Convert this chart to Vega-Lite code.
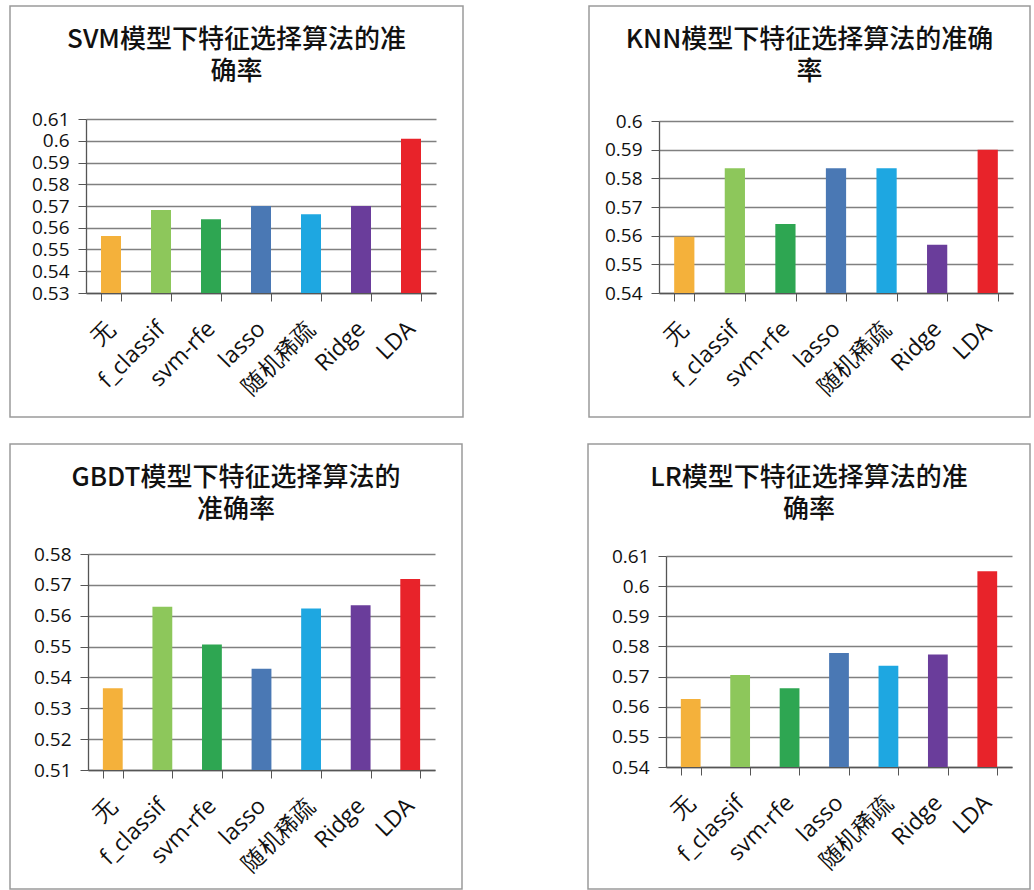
{
  "$schema": "https://vega.github.io/schema/vega-lite/v6.json",
  "padding": {"left": 1, "top": 5, "right": 0, "bottom": 0},
  "background": "white",
  "datasets": {
    "svm": [
      {"method": "无", "acc": 0.5562},
      {"method": "f_classif", "acc": 0.5682},
      {"method": "svm-rfe", "acc": 0.5639},
      {"method": "lasso", "acc": 0.570},
      {"method": "随机稀疏", "acc": 0.5662},
      {"method": "Ridge", "acc": 0.570},
      {"method": "LDA", "acc": 0.6009}
    ],
    "knn": [
      {"method": "无", "acc": 0.5596},
      {"method": "f_classif", "acc": 0.5835},
      {"method": "svm-rfe", "acc": 0.5641},
      {"method": "lasso", "acc": 0.5835},
      {"method": "随机稀疏", "acc": 0.5835},
      {"method": "Ridge", "acc": 0.5568},
      {"method": "LDA", "acc": 0.590}
    ],
    "gbdt": [
      {"method": "无", "acc": 0.5365},
      {"method": "f_classif", "acc": 0.5629},
      {"method": "svm-rfe", "acc": 0.5507},
      {"method": "lasso", "acc": 0.5428},
      {"method": "随机稀疏", "acc": 0.5623},
      {"method": "Ridge", "acc": 0.5634},
      {"method": "LDA", "acc": 0.5719}
    ],
    "lr": [
      {"method": "无", "acc": 0.5626},
      {"method": "f_classif", "acc": 0.5705},
      {"method": "svm-rfe", "acc": 0.5661},
      {"method": "lasso", "acc": 0.5778},
      {"method": "随机稀疏", "acc": 0.5736},
      {"method": "Ridge", "acc": 0.5773},
      {"method": "LDA", "acc": 0.6049}
    ]
  },
  "vconcat": [
    {
      "hconcat": [
        {
          "width": 453, "height": 411,
          "title": {"text": ["SVM模型下特征选择算法的准", "确率"], "offset": -79},
          "data": {"name": "svm"},
          "mark": {"type": "bar"},
          "encoding": {
            "x": {"field": "method", "type": "nominal", "sort": ["无", "f_classif", "svm-rfe", "lasso", "随机稀疏", "Ridge", "LDA"],
                  "scale": {"range": [76, 426], "paddingInner": 0.6, "paddingOuter": 0.3},
                  "axis": {"offset": -124}},
            "y": {"field": "acc", "type": "quantitative",
                  "scale": {"domain": [0.53, 0.61], "range": [287, 113], "nice": false, "zero": false},
                  "axis": {"offset": -76, "values": [0.53, 0.54, 0.55, 0.56, 0.57, 0.58, 0.59, 0.6, 0.61]}},
            "y2": {"datum": 0.53},
            "color": {"field": "method", "type": "nominal", "legend": null,
                      "scale": {"domain": ["无", "f_classif", "svm-rfe", "lasso", "随机稀疏", "Ridge", "LDA"],
                                "range": ["#F4B13B", "#8DC75B", "#2EA652", "#4A78B4", "#1EA7E1", "#6A3D9B", "#E8232A"]}}
          }
        },
        {
          "width": 441, "height": 411,
          "title": {"text": ["KNN模型下特征选择算法的准确", "率"], "offset": -79},
          "data": {"name": "knn"},
          "mark": {"type": "bar"},
          "encoding": {
            "x": {"field": "method", "type": "nominal", "sort": ["无", "f_classif", "svm-rfe", "lasso", "随机稀疏", "Ridge", "LDA"],
                  "scale": {"range": [70, 424], "paddingInner": 0.6, "paddingOuter": 0.3},
                  "axis": {"offset": -124}},
            "y": {"field": "acc", "type": "quantitative",
                  "scale": {"domain": [0.54, 0.6], "range": [287, 115], "nice": false, "zero": false},
                  "axis": {"offset": -70, "values": [0.54, 0.55, 0.56, 0.57, 0.58, 0.59, 0.6]}},
            "y2": {"datum": 0.54},
            "color": {"field": "method", "type": "nominal", "legend": null,
                      "scale": {"domain": ["无", "f_classif", "svm-rfe", "lasso", "随机稀疏", "Ridge", "LDA"],
                                "range": ["#F4B13B", "#8DC75B", "#2EA652", "#4A78B4", "#1EA7E1", "#6A3D9B", "#E8232A"]}}
          }
        }
      ]
    },
    {
      "hconcat": [
        {
          "width": 452, "height": 445,
          "title": {"text": ["GBDT模型下特征选择算法的", "准确率"], "offset": -79},
          "data": {"name": "gbdt"},
          "mark": {"type": "bar"},
          "encoding": {
            "x": {"field": "method", "type": "nominal", "sort": ["无", "f_classif", "svm-rfe", "lasso", "随机稀疏", "Ridge", "LDA"],
                  "scale": {"range": [78, 425], "paddingInner": 0.6, "paddingOuter": 0.3},
                  "axis": {"offset": -119}},
            "y": {"field": "acc", "type": "quantitative",
                  "scale": {"domain": [0.51, 0.58], "range": [326, 110], "nice": false, "zero": false},
                  "axis": {"offset": -78, "values": [0.51, 0.52, 0.53, 0.54, 0.55, 0.56, 0.57, 0.58]}},
            "y2": {"datum": 0.51},
            "color": {"field": "method", "type": "nominal", "legend": null,
                      "scale": {"domain": ["无", "f_classif", "svm-rfe", "lasso", "随机稀疏", "Ridge", "LDA"],
                                "range": ["#F4B13B", "#8DC75B", "#2EA652", "#4A78B4", "#1EA7E1", "#6A3D9B", "#E8232A"]}}
          }
        },
        {
          "width": 442, "height": 445,
          "title": {"text": ["LR模型下特征选择算法的准", "确率"], "offset": -79},
          "data": {"name": "lr"},
          "mark": {"type": "bar"},
          "encoding": {
            "x": {"field": "method", "type": "nominal", "sort": ["无", "f_classif", "svm-rfe", "lasso", "随机稀疏", "Ridge", "LDA"],
                  "scale": {"range": [78, 424], "paddingInner": 0.6, "paddingOuter": 0.3},
                  "axis": {"offset": -122}},
            "y": {"field": "acc", "type": "quantitative",
                  "scale": {"domain": [0.54, 0.61], "range": [323, 112], "nice": false, "zero": false},
                  "axis": {"offset": -78, "values": [0.54, 0.55, 0.56, 0.57, 0.58, 0.59, 0.6, 0.61]}},
            "y2": {"datum": 0.54},
            "color": {"field": "method", "type": "nominal", "legend": null,
                      "scale": {"domain": ["无", "f_classif", "svm-rfe", "lasso", "随机稀疏", "Ridge", "LDA"],
                                "range": ["#F4B13B", "#8DC75B", "#2EA652", "#4A78B4", "#1EA7E1", "#6A3D9B", "#E8232A"]}}
          }
        }
      ]
    }
  ],
  "spacing": 25,
  "config": {
    "concat": {"spacing": 116},
    "view": {"stroke": "#9a9a9a", "strokeWidth": 1.5, "fill": "white"},
    "axis": {
      "title": null,
      "labelFont": "Open Sans",
      "labelFontSize": 19,
      "labelColor": "#111111",
      "domainColor": "#555555",
      "tickColor": "#555555",
      "gridColor": "#808080",
      "gridWidth": 1.3
    },
    "axisY": {"grid": true, "tickSize": 8, "labelPadding": 9, "format": "~g", "domainWidth": 1.3},
    "axisX": {"grid": false, "tickBand": "extent", "tickSize": 8, "labelAngle": -45, "labelAlign": "right", "labelBaseline": "middle", "labelPadding": 24, "labelFontSize": 23, "domainWidth": 1.3},
    "title": {
      "font": "Noto Sans CJK SC",
      "fontSize": 26,
      "fontWeight": 500,
      "color": "#111111",
      "lineHeight": 32,
      "anchor": "middle",
      "frame": "group"
    }
  }
}
